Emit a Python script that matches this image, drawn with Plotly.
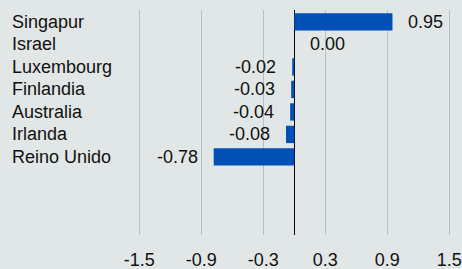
import plotly.graph_objects as go

categories = ["Singapur", "Israel", "Luxembourg", "Finlandia", "Australia", "Irlanda", "Reino Unido"]
values = [0.95, 0.00, -0.02, -0.03, -0.04, -0.08, -0.78]
tick_vals = [-1.5, -0.9, -0.3, 0.3, 0.9, 1.5]
tick_text = ["-1.5", "-0.9", "-0.3", "0.3", "0.9", "1.5"]

BG = "#E1E6E6"
BLUE = "#0050B5"
FONT = "Arial, Liberation Sans, sans-serif"
FS = 18

pos = list(range(len(categories)))

fig = go.Figure()
fig.add_trace(go.Bar(
    x=values, y=pos, orientation="h",
    marker=dict(color=BLUE, line=dict(width=0)),
    width=0.77, hoverinfo="skip",
))

annotations = []
for i, (c, v) in enumerate(zip(categories, values)):
    annotations.append(dict(
        x=0.021, xref="paper", y=i, yref="y", text=c, showarrow=False,
        xanchor="left", yanchor="middle", font=dict(family=FONT, size=FS, color="#111111"),
    ))
    annotations.append(dict(
        x=v, xref="x", y=i, yref="y", text=f"{v:.2f}", showarrow=False,
        xanchor="left" if v >= 0 else "right", yanchor="middle",
        xshift=14 if v >= 0 else -14,
        font=dict(family=FONT, size=FS, color="#111111"),
    ))

fig.update_layout(
    width=462, height=269,
    margin=dict(l=0, r=0, t=10, b=34, autoexpand=False),
    paper_bgcolor=BG, plot_bgcolor=BG,
    showlegend=False,
    font=dict(family=FONT, size=FS, color="#111111"),
    annotations=annotations,
    xaxis=dict(
        range=[-2.848, 1.623], tickvals=tick_vals, ticktext=tick_text,
        showgrid=True, gridcolor="#B9BFC2", gridwidth=1,
        zeroline=True, zerolinecolor="#000000", zerolinewidth=1,
        showline=False, ticks="", ticklabelstandoff=12,
        tickfont=dict(family=FONT, size=FS, color="#111111"),
        fixedrange=True, automargin=False,
    ),
    yaxis=dict(
        range=[9.47, -0.53], showticklabels=False, showgrid=False,
        zeroline=False, showline=False, ticks="", fixedrange=True,
    ),
)

fig.write_html(
    "out.html",
    config={"displayModeBar": False, "responsive": False},
    post_script="document.body.style.margin='0';document.body.style.padding='0';document.body.style.background='%s';" % BG,
)
